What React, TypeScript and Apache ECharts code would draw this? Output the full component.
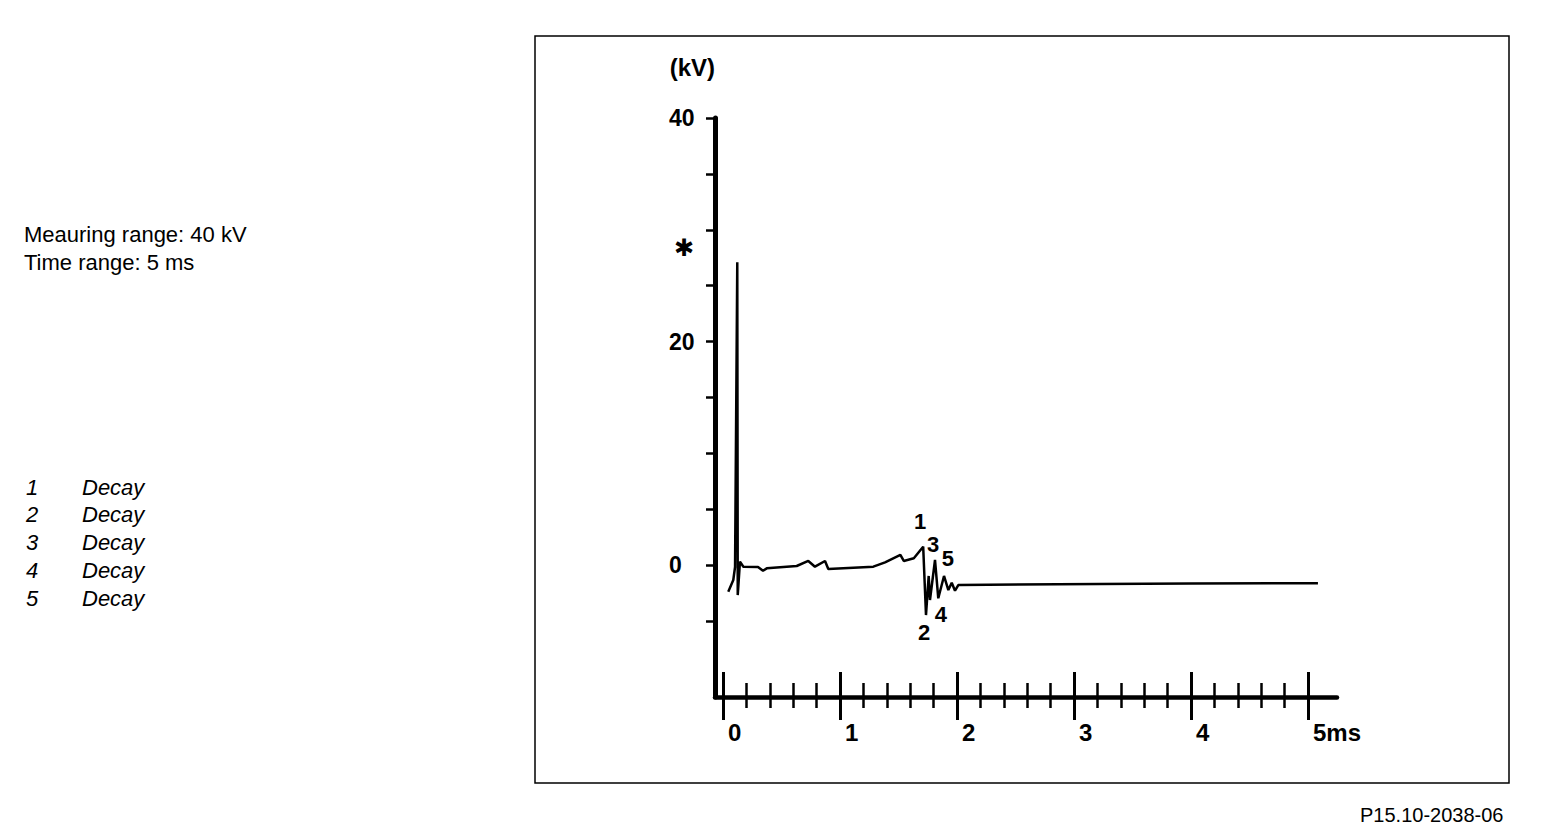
import React, { useEffect, useRef } from 'react';
import * as echarts from 'echarts';

// ---- Data ----
const timeMs = [
  0.045, 0.088, 0.103, 0.122, 0.126, 0.145, 0.174, 0.299, 0.342, 0.374,
  0.63, 0.729, 0.786, 0.872, 0.9, 1.285, 1.385, 1.516, 1.545, 1.631,
  1.711, 1.735, 1.758, 1.769, 1.812, 1.84, 1.889, 1.926, 1.955, 1.983,
  2.011, 3.222, 4.0, 5.085,
];
const voltageKV = [
  -2.39, -1.34, -0.18, 27.1, -2.69, 0.3, -0.15, -0.18, -0.51, -0.3,
  -0.09, 0.36, -0.15, 0.36, -0.36, -0.15, 0.24, 0.9, 0.36, 0.6,
  1.64, -4.48, -0.98, -3.13, 0.45, -2.98, -0.98, -2.24, -1.58, -2.3,
  -1.79, -1.7, -1.65, -1.64,
];

const annotationLabels = ['1', '2', '3', '4', '5'];
const annotationTimeMs = [1.684, 1.718, 1.795, 1.863, 1.923];
const annotationKV = [3.85, -6.0, 1.79, -4.39, 0.54];

const xMajorTicks = [0, 1, 2, 3, 4, 5];
const xMinorTicks = [
  0.2, 0.4, 0.6, 0.8, 1.2, 1.4, 1.6, 1.8, 2.2, 2.4,
  2.6, 2.8, 3.2, 3.4, 3.6, 3.8, 4.2, 4.4, 4.6, 4.8,
];
const xLabelValues = [0, 1, 2, 3, 4, 5];
const yTicks = [-5, 0, 5, 10, 15, 20, 25, 30, 35, 40];
const yLabelValues = [0, 20, 40];
const peakMarkerKV = 28.4;

const infoLines = ['Meauring range: 40 kV', 'Time range: 5 ms'];
const decayNumbers = ['1', '2', '3', '4', '5'];
const decayNames = ['Decay', 'Decay', 'Decay', 'Decay', 'Decay'];
const figureId = 'P15.10-2038-06';

// ---- Layout ----
const GRID_LEFT = 715;
const GRID_TOP = 118;
const GRID_W = 622;
const GRID_H = 579;
const PX_PER_MS = 117;
const PX_PER_KV = 11.175;
const X_MIN = -8 / PX_PER_MS;
const X_MAX = X_MIN + GRID_W / PX_PER_MS;
const Y_MAX = 40;
const Y_MIN = Y_MAX - GRID_H / PX_PER_KV;

const FONT = '"Liberation Sans", Arial, sans-serif';

function xAxisBase(extra: any) {
  return {
    type: 'value',
    gridIndex: 0,
    position: 'bottom',
    offset: 0,
    min: X_MIN,
    max: X_MAX,
    splitLine: { show: false },
    axisLine: { show: false, onZero: false },
    axisLabel: { show: false },
    ...extra,
  };
}

function buildOption(): any {
  const lineData = timeMs.map((t, i) => [t, voltageKV[i]]);
  const annData = annotationLabels.map((l, i) => [annotationTimeMs[i], annotationKV[i], l]);

  const graphics: any[] = [
    {
      type: 'rect',
      shape: { x: 535, y: 36, width: 974, height: 747 },
      style: { fill: 'none', stroke: '#000', lineWidth: 1.5 },
      silent: true,
    },
  ];
  infoLines.forEach((txt, i) => {
    graphics.push({
      type: 'text',
      x: 24,
      y: 234 + i * 28,
      style: {
        text: txt,
        font: `22px ${FONT}`,
        fill: '#000',
        textVerticalAlign: 'middle',
      },
    });
  });
  decayNumbers.forEach((n, i) => {
    const y = 487 + i * 27.8;
    graphics.push({
      type: 'text',
      x: 26,
      y,
      style: { text: n, font: `italic 22px ${FONT}`, fill: '#000', textVerticalAlign: 'middle' },
    });
    graphics.push({
      type: 'text',
      x: 82,
      y,
      style: { text: decayNames[i], font: `italic 22px ${FONT}`, fill: '#000', textVerticalAlign: 'middle' },
    });
  });
  graphics.push({
    type: 'text',
    x: 1360,
    y: 815,
    style: { text: figureId, font: `20px ${FONT}`, fill: '#000', textVerticalAlign: 'middle' },
  });

  return {
    animation: false,
    backgroundColor: '#fff',
    grid: { left: GRID_LEFT, top: GRID_TOP, width: GRID_W, height: GRID_H, containLabel: false },
    xAxis: [
      xAxisBase({
        axisLine: { show: true, onZero: false, lineStyle: { color: '#000', width: 4.5 } },
        axisTick: {
          show: true,
          inside: true,
          length: 25,
          customValues: xMajorTicks,
          lineStyle: { color: '#000', width: 3 },
        },
        axisLabel: {
          show: true,
          customValues: xLabelValues,
          formatter: (v: number) => (v === 5 ? '5ms' : String(v)),
          align: 'left',
          padding: [0, 0, 0, 5],
          margin: 23,
          color: '#000',
          fontFamily: FONT,
          fontWeight: 'bold',
          fontSize: 24,
        },
      }),
      xAxisBase({
        axisTick: {
          show: true,
          inside: false,
          length: 23,
          customValues: xMajorTicks,
          lineStyle: { color: '#000', width: 3 },
        },
      }),
      xAxisBase({
        axisTick: {
          show: true,
          inside: true,
          length: 14,
          customValues: xMinorTicks,
          lineStyle: { color: '#000', width: 2.5 },
        },
      }),
      xAxisBase({
        axisTick: {
          show: true,
          inside: false,
          length: 11,
          customValues: xMinorTicks,
          lineStyle: { color: '#000', width: 2.5 },
        },
      }),
    ],
    yAxis: [
      {
        type: 'value',
        min: Y_MIN,
        max: Y_MAX,
        position: 'left',
        splitLine: { show: false },
        name: '(kV)',
        nameLocation: 'end',
        nameGap: 39,
        nameTextStyle: {
          color: '#000',
          fontFamily: FONT,
          fontWeight: 'bold',
          fontSize: 24,
          align: 'right',
        },
        axisLine: { show: true, onZero: false, lineStyle: { color: '#000', width: 5 } },
        axisTick: {
          show: true,
          inside: false,
          length: 9,
          customValues: yTicks,
          lineStyle: { color: '#000', width: 2.5 },
        },
        axisLabel: {
          show: true,
          customValues: [...yLabelValues, peakMarkerKV],
          formatter: (v: number) => (v === peakMarkerKV ? '{s|✱}' : String(v)),
          align: 'left',
          margin: 46,
          color: '#000',
          fontFamily: FONT,
          fontWeight: 'bold',
          fontSize: 23,
          rich: {
            s: { fontFamily: '"DejaVu Sans", sans-serif', fontSize: 24, fontWeight: 'bold', color: '#000', padding: [0, 0, 0, 5] },
          },
        },
      },
    ],
    series: [
      {
        type: 'line',
        xAxisIndex: 0,
        yAxisIndex: 0,
        data: lineData,
        symbol: 'none',
        showSymbol: false,
        lineStyle: { color: '#000', width: 2.5 },
        silent: true,
      },
      {
        type: 'scatter',
        xAxisIndex: 0,
        yAxisIndex: 0,
        data: annData,
        symbol: 'circle',
        symbolSize: 1,
        itemStyle: { color: 'rgba(0,0,0,0)', opacity: 1 },
        label: {
          show: true,
          position: 'inside',
          formatter: (p: any) => p.data[2],
          color: '#000',
          opacity: 1,
          textBorderWidth: 0,
          fontFamily: FONT,
          fontWeight: 'bold',
          fontSize: 22,
        },
        silent: true,
      },
    ],
    graphic: graphics,
  };
}

export default function App() {
  const ref = useRef<HTMLDivElement>(null);
  useEffect(() => {
    if (!ref.current) return;
    const chart = echarts.init(ref.current, null, { renderer: 'svg' });
    chart.setOption(buildOption());
    return () => chart.dispose();
  }, []);
  return (
    <div
      ref={ref}
      style={{ position: 'fixed', left: 0, top: 0, width: 1568, height: 836, background: '#fff' }}
    />
  );
}
